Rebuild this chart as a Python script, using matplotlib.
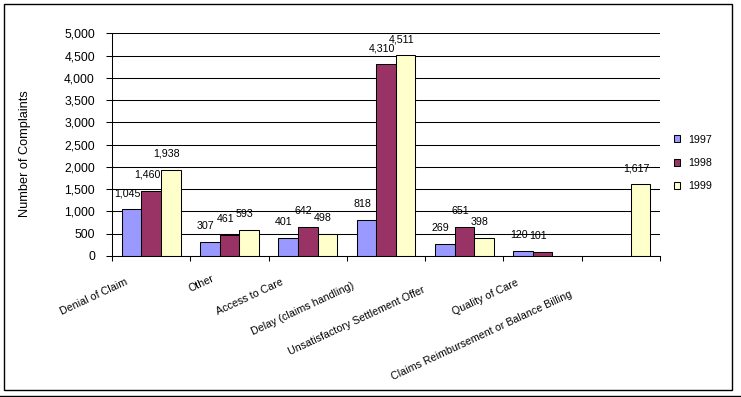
import matplotlib
matplotlib.use('Agg')
import matplotlib.pyplot as plt
import numpy as np
from matplotlib.transforms import ScaledTranslation
from matplotlib.patches import Patch, Rectangle
from matplotlib.lines import Line2D

plt.rcParams['font.family'] = ['Liberation Sans', 'DejaVu Sans']

categories = ["Denial of Claim", "Other", "Access to Care", "Delay (claims handling)",
              "Unsatisfactory Settlement Offer", "Quality of Care",
              "Claims Reimbursement or Balance Billing"]
series_names = ["1997", "1998", "1999"]
v1997 = [1045, 307, 401, 818, 269, 120, np.nan]
v1998 = [1460, 461, 642, 4310, 651, 101, np.nan]
v1999 = [1938, 593, 498, 4511, 398, np.nan, 1617]
colors = ['#9999FF', '#993366', '#FFFFCC']
y_ticks = list(range(0, 5001, 500))
y_label = "Number of Complaints"

W, H = 741, 397
fig = plt.figure(figsize=(W / 100, H / 100), dpi=100)
ax = fig.add_axes([112 / W, 1 - 256 / H, 548 / W, 222.7 / H])

x = np.arange(len(categories))
bw = 0.25
for k, (vals, name, c) in enumerate(zip([v1997, v1998, v1999], series_names, colors)):
    vals = np.array(vals, float)
    mask = ~np.isnan(vals)
    pos = x[mask] + (k - 1) * bw
    ax.bar(pos, vals[mask], width=bw, color=c, edgecolor='black', linewidth=0.75,
           label=name, zorder=2)
    for p, v in zip(pos, vals[mask]):
        ax.annotate(f"{int(v):,}", xy=(p, v), xytext=(-3, 11.5), textcoords='offset points',
                    ha='center', va='center', fontsize=7.7)

ax.set_xlim(-0.5, len(categories) - 0.5)
ax.set_ylim(0, 5000)
ax.set_yticks(y_ticks)
ax.set_yticklabels([f"{t:,}" for t in y_ticks], fontsize=8.7)
ax.yaxis.grid(True, color='black', linewidth=0.75)
ax.set_axisbelow(True)
ax.tick_params(axis='y', direction='out', length=4.3, width=0.75, pad=8)
ax.set_xticks(np.arange(-0.5, len(categories), 1))
ax.set_xticklabels([])
ax.tick_params(axis='x', direction='out', length=3.6, width=0.75)
for s in ['top', 'right']:
    ax.spines[s].set_visible(False)
for s in ['left', 'bottom']:
    ax.spines[s].set_linewidth(0.75)

ax.set_ylabel(y_label, fontsize=9.2)
ax.yaxis.set_label_coords(-0.159, 0.458)
ax.yaxis.label.set_va('center')

renderer = fig.canvas.get_renderer()
ang = np.deg2rad(25)
for i, cat in enumerate(categories):
    t = ax.text(i, 0, cat, rotation=25, rotation_mode='anchor', ha='right', va='center',
                fontsize=7.7)
    w, h, d = renderer.get_text_width_height_descent(cat, t.get_fontproperties(), ismath=False)
    s = 0.22 * w
    dx_px = -10 - s * np.cos(ang)
    dy_px = -19 - s * np.sin(ang)
    t.set_transform(ax.get_xaxis_transform() +
                    ScaledTranslation(dx_px / 100, dy_px / 100, fig.dpi_scale_trans))

handles = [Patch(facecolor=c, edgecolor='black', linewidth=0.75) for c in colors]
fig.legend(handles, series_names, loc='center left', bbox_to_anchor=(674 / W, 1 - 163 / H),
           frameon=False, fontsize=7.7, handlelength=0.6, handleheight=0.6,
           handletextpad=0.7, labelspacing=1.25, borderpad=0, borderaxespad=0)

fig.add_artist(Rectangle((4 / W, 1 - 390 / H), 728 / W, 386 / H, transform=fig.transFigure,
                         fill=False, edgecolor='black', linewidth=1.0))
fig.add_artist(Line2D([0, 1], [0.6 / H, 0.6 / H], transform=fig.transFigure,
                      color='black', linewidth=1.0))

fig.savefig('out.png', dpi=100)
